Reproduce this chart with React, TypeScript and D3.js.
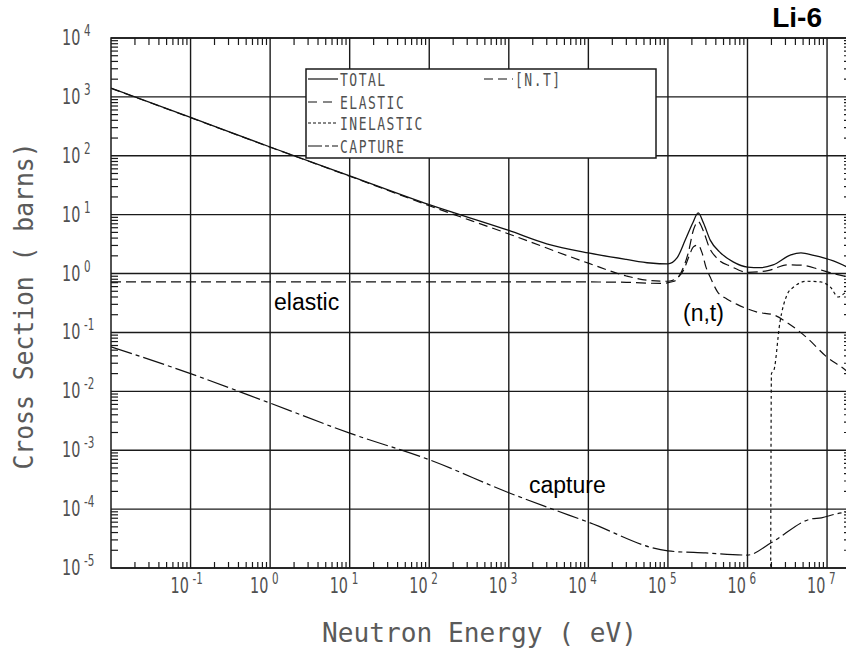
import React from 'react';
import * as d3 from 'd3';

// Energies in eV, cross sections in barns
const totalE = [0.01, 0.1, 1, 10, 100, 1e3, 3e3, 1e4, 3e4, 6e4, 1e5, 1.3e5, 1.65e5, 2.05e5, 2.4e5, 2.8e5, 3.4e5, 4.6e5, 6.6e5, 1e6, 1.45e6, 2.1e6, 3.5e6, 4.7e6, 6.8e6, 1.2e7, 2e7];
const totalS = [1410, 447, 141, 45.7, 14.8, 5.4, 3.2, 2.24, 1.74, 1.51, 1.46, 1.84, 3.7, 7.2, 10.7, 7.2, 3.7, 2.24, 1.58, 1.29, 1.26, 1.4, 2.07, 2.24, 2.04, 1.64, 1.2];

const elasticE = [0.01, 1e4, 3e4, 8e4, 1.2e5, 1.5e5, 1.8e5, 2.1e5, 2.4e5, 2.8e5, 3.3e5, 4.2e5, 6.2e5, 1e6, 1.8e6, 3.2e6, 5e6, 8e6, 1.2e7, 2e7];
const elasticS = [0.72, 0.72, 0.71, 0.68, 0.74, 1.12, 2.24, 5.6, 7.6, 5.2, 2.8, 1.78, 1.32, 1.05, 1.12, 1.41, 1.38, 1.17, 1.0, 0.85];

const ntE = [0.01, 0.1, 1, 10, 100, 1e3, 1e4, 3e4, 6e4, 1e5, 1.3e5, 1.6e5, 1.85e5, 2.1e5, 2.4e5, 2.7e5, 3.0e5, 3.4e5, 4.2e5, 5.5e5, 7.4e5, 1.35e6, 2.1e6, 3.2e6, 5.6e6, 1e7, 1.7e7, 2e7];
const ntS = [1400, 445, 140, 45, 14.2, 4.7, 1.5, 0.91, 0.76, 0.74, 0.84, 1.2, 2.0, 2.85, 3.05, 2.2, 1.3, 0.87, 0.49, 0.37, 0.3, 0.22, 0.2, 0.145, 0.081, 0.038, 0.023, 0.019];

const inelE = [1.95e6, 2.0e6, 2.15e6, 2.55e6, 3.15e6, 3.8e6, 5.6e6, 8.3e6, 1.1e7, 1.38e7, 1.7e7, 2e7];
const inelS = [1e-6, 0.02, 0.023, 0.145, 0.44, 0.59, 0.74, 0.72, 0.59, 0.4, 0.47, 0.5];

const captE = [0.01, 0.1, 1, 10, 100, 1e3, 1e4, 1e5, 3e5, 1e6, 2e6, 6.3e6, 8.5e6, 1.3e7, 2e7];
const captS = [0.057, 0.02, 0.0063, 0.00195, 6.9e-4, 1.9e-4, 6.0e-5, 1.95e-5, 1.8e-5, 1.66e-5, 2.7e-5, 6.8e-5, 7.1e-5, 8.3e-5, 9e-5];

const xExponents = [-1, 0, 1, 2, 3, 4, 5, 6, 7];
const yExponents = [4, 3, 2, 1, 0, -1, -2, -3, -4, -5];

const legendLabels = ['TOTAL', 'ELASTIC', 'INELASTIC', 'CAPTURE'];
const legendDash = ['', '9,6', '3,2', '14,3,4,3'];

const L = 111, R = 851, T = 38, B = 568;
const INK = '#111';
const TXT = '#505050';

const x = d3.scaleLog().domain([1e-2, 2e7]).range([L, R]);
const y = d3.scaleLog().domain([1e-5, 1e4]).range([B, T]);

function path(es: number[], ss: number[]) {
  const pts = es.map((e, i) => [x(e), y(ss[i])] as [number, number]);
  return d3.line().curve(d3.curveMonotoneX)(pts) ?? '';
}

function minor(lo: number, hi: number, max: number) {
  const out: number[] = [];
  for (let d = lo; d <= hi; d++) for (let k = 2; k < 10; k++) if (k * 10 ** d < max) out.push(k * 10 ** d);
  return out;
}

// "10" with a raised exponent, plotter style
const Pow = ({ px, py, exp }: { px: number; py: number; exp: number }) => (
  <g fill={TXT} fontFamily="'DejaVu Sans', sans-serif">
    <text transform={`translate(${px},${py}) scale(0.9,1.35)`} fontSize={16}>10</text>
    <text transform={`translate(${px + 22},${py - 9}) scale(0.9,1.35)`} fontSize={11.5}>{exp < 0 ? `-${-exp}` : exp}</text>
  </g>
);

export default function App() {
  const xMinor = minor(-2, 7, 2e7);
  const yMinor = minor(-5, 3, 1e4);
  const legRows = [79, 102, 123, 146];

  return (
    <svg width={846} height={652} viewBox="0 0 846 652"
      style={{ position: 'absolute', left: 0, top: 0, background: '#fff' }}>
      <defs>
        <clipPath id="plot"><rect x={L} y={T} width={R - L} height={B - T} /></clipPath>
      </defs>
      <rect x={0} y={0} width={846} height={652} fill="#fff" />

      {/* grid */}
      <g stroke="#1a1a1a" strokeWidth={1.4}>
        {xExponents.map(e => (
          <line key={'gx' + e} x1={x(10 ** e)} x2={x(10 ** e)} y1={T} y2={B} />
        ))}
        {yExponents.map(e => (
          <line key={'gy' + e} x1={L} x2={R} y1={y(10 ** e)} y2={y(10 ** e)} />
        ))}
      </g>

      {/* minor ticks */}
      <g stroke="#1a1a1a" strokeWidth={1.2}>
        {xMinor.map(v => (
          <g key={'mx' + v}>
            <line x1={x(v)} x2={x(v)} y1={T} y2={T + 7} />
            <line x1={x(v)} x2={x(v)} y1={B} y2={B - 6} />
          </g>
        ))}
        {yMinor.map(v => (
          <g key={'my' + v}>
            <line x1={L} x2={L + 7} y1={y(v)} y2={y(v)} />
            <line x1={R} x2={R - 7} y1={y(v)} y2={y(v)} />
          </g>
        ))}
      </g>

      {/* curves */}
      <g clipPath="url(#plot)" fill="none" stroke={INK} strokeWidth={1.2}>
        <path d={path(captE, captS)} strokeDasharray="22,4,4,4" />
        <path d={path(inelE, inelS)} strokeDasharray="3,3" />
        <path d={path(ntE, ntS)} strokeDasharray="9,5" />
        <path d={path(elasticE, elasticS)} strokeDasharray="10,5" />
        <path d={path(totalE, totalS)} strokeWidth={1.3} />
      </g>

      {/* frame */}
      <rect x={L} y={T} width={R - L} height={B - T} fill="none" stroke="#1a1a1a" strokeWidth={1.5} />

      {/* legend */}
      <rect x={306} y={69} width={350} height={89} fill="#fff" stroke="#1a1a1a" strokeWidth={1.5} />
      {legendLabels.map((lab, i) => (
        <g key={lab}>
          <line x1={308} x2={338} y1={legRows[i]} y2={legRows[i]} stroke={INK} strokeWidth={1.2}
            strokeDasharray={legendDash[i] || undefined} />
          <text transform={`translate(340,${legRows[i] + 7}) scale(1,1.35)`} fontFamily="'DejaVu Sans Mono', monospace"
            fontSize={13} letterSpacing={1.5} fill={TXT}>{lab}</text>
        </g>
      ))}
      <line x1={484} x2={513} y1={legRows[0]} y2={legRows[0]} stroke={INK} strokeWidth={1.2} strokeDasharray="9,5" />
      <text transform={`translate(515,${legRows[0] + 7}) scale(1,1.35)`} fontFamily="'DejaVu Sans Mono', monospace"
        fontSize={13} letterSpacing={1.5} fill={TXT}>[N.T]</text>

      {/* tick labels */}
      {xExponents.map(e => (
        <Pow key={'lx' + e} px={x(10 ** e) - 20} py={593} exp={e} />
      ))}
      {yExponents.map(e => (
        <Pow key={'ly' + e} px={62} py={y(10 ** e) + 7} exp={e} />
      ))}

      {/* axis titles */}
      <text x={322} y={642} textLength={315} lengthAdjust="spacingAndGlyphs"
        fontFamily="'DejaVu Sans Mono', monospace" fontSize={27} fill="#5a5a5a">Neutron Energy ( eV)</text>
      <text transform="translate(33,306) rotate(-90)" textAnchor="middle" textLength={327} lengthAdjust="spacingAndGlyphs"
        fontFamily="'DejaVu Sans Mono', monospace" fontSize={27} fill="#5a5a5a">Cross Section ( barns)</text>

      {/* annotations */}
      <g fontFamily="'Liberation Sans', Arial, sans-serif" fill="#000">
        <text x={274} y={310} fontSize={23}>elastic</text>
        <text x={683} y={321} fontSize={23}>(n,t)</text>
        <text x={529} y={493} fontSize={23}>capture</text>
        <text x={822} y={27} fontSize={28} fontWeight="bold" textAnchor="end">Li-6</text>
      </g>
    </svg>
  );
}
